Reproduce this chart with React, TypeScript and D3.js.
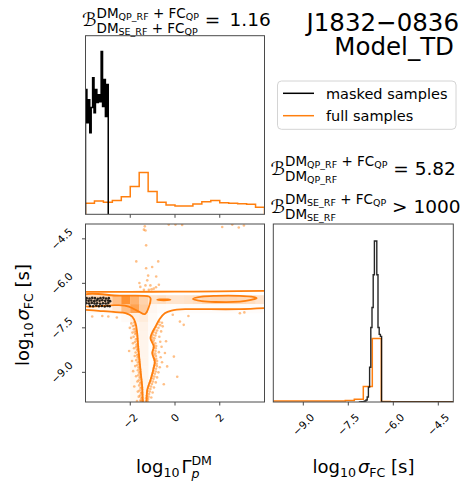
import React from "react";
import * as d3 from "d3";

const FONT = '"DejaVu Sans", "Liberation Sans", sans-serif';
const ORANGE = "#ff7f0e";
const FRAME = "#4a4a4a";

// ---------- data ----------
const gammaTicks = [-2, 0, 2];
const sigmaTicks = [-9.0, -7.5, -6.0, -4.5];
const sigmaTickLabels = ["\u22129.0", "\u22127.5", "\u22126.0", "\u22124.5"];
const gammaTickLabels = ["\u22122", "0", "2"];

// marginal of log10 Gamma (density)
const gammaFullLo = -4;
const gammaFullWidth = 0.4;
const gammaFullDensity = [0.097, 0.117, 0.106, 0.12, 0.155, 0.243, 0.366, 0.199, 0.106, 0.082, 0.073, 0.073, 0.091, 0.111, 0.12, 0.102, 0.097, 0.093, 0.088, 0.062];
const gammaMaskedLo = -4;
const gammaMaskedWidth = 0.0635;
const gammaMaskedDensity = [1.094, 0.804, 1.006, 0.716, 0.936, 1.199, 0.892, 1.094, 0.98, 1.05, 0.988, 1.428, 0.945, 1.182, 0.857, 1.138];

// marginal of log10 sigma_FC (density)
const sigmaFullLo = -10;
const sigmaFullWidth = 0.3;
const sigmaFullDensity = [0.03, 0.03, 0.035, 0.03, 0.03, 0.035, 0.03, 0.035, 0.05, 0.09, 0.517, 2.133, 0.015, 0.012, 0.012, 0.01, 0.012, 0.01, 0.012, 0.01];
const sigmaMaskedLo = -7.15;
const sigmaMaskedWidth = 0.04;
const sigmaMaskedDensity = [0, 0, 0.01, 0.01, 0.02, 0.033, 0.067, 0.167, 0.5, 1.167, 2.5, 3.167, 4.267, 5.4, 5.4, 4.267, 2.5, 2.267, 2.2];
const sigmaMaskedTailEnd = -4;

// 2D histogram cells: [gamma bin, sigma bin, level]  (gamma bins of 0.4 from -4, sigma bins of 0.3 from -10)
const heatCells: [number, number, number][] = [
  [0, 11, 0.28], [1, 11, 0.3], [2, 11, 0.3], [3, 11, 0.5], [4, 11, 0.85], [5, 11, 0.6], [6, 11, 0.35], [7, 11, 0.22], [8, 11, 0.25], [9, 11, 0.2],
  [10, 11, 0.2], [11, 11, 0.22], [12, 11, 0.25], [13, 11, 0.3], [14, 11, 0.32], [15, 11, 0.32], [16, 11, 0.32], [17, 11, 0.3], [18, 11, 0.26], [19, 11, 0.2],
  [0, 10, 0.04], [1, 10, 0.04], [2, 10, 0.06], [3, 10, 0.18], [4, 10, 0.5], [5, 10, 0.72], [6, 10, 0.4], [7, 10, 0.06], [8, 10, 0.03], [9, 10, 0.02],
  [10, 10, 0.02], [11, 10, 0.02], [12, 10, 0.02], [13, 10, 0.02], [14, 10, 0.02], [15, 10, 0.02], [16, 10, 0.02], [17, 10, 0.02], [18, 10, 0.02], [19, 10, 0.02],
  [4, 9, 0.03], [5, 9, 0.12], [6, 9, 0.15], [7, 9, 0.04],
  [5, 8, 0.06], [6, 8, 0.1], [7, 8, 0.03], [5, 7, 0.05], [6, 7, 0.09], [7, 7, 0.03], [5, 6, 0.05], [6, 6, 0.08],
  [5, 5, 0.04], [6, 5, 0.08], [5, 4, 0.04], [6, 4, 0.08], [5, 3, 0.05], [6, 3, 0.07], [5, 2, 0.05], [6, 2, 0.07],
  [5, 1, 0.04], [6, 1, 0.06], [5, 0, 0.04], [6, 0, 0.06],
];

// contours (data coordinates: [log10 Gamma, log10 sigma])
const contourUpper: [number, number][] = [[-4, -6.29], [-2, -6.285], [0, -6.28], [2, -6.27], [4, -6.255]];
const contourLower: [number, number][] = [
  [-4, -6.893], [-3.406, -6.927], [-2.659, -6.971], [-2.212, -7.005], [-1.913, -7.119], [-1.765, -7.342], [-1.689, -7.68],
  [-1.645, -8.132], [-1.587, -8.581], [-1.528, -9.03], [-1.466, -9.483], [-1.439, -9.932], [-1.41, -10.05],
  [-1.3, -10.05], [-1.242, -9.594], [-1.095, -9.256], [-0.974, -8.919], [-0.903, -8.639], [-1.019, -8.355], [-0.947, -8.132],
  [-1.095, -7.849], [-1.019, -7.66], [-0.872, -7.457], [-0.693, -7.207], [-0.456, -7.005], [-0.156, -6.917], [0.469, -6.87],
  [1.095, -6.87], [2.883, -6.87], [4, -6.836],
];
const contourInnerLeft: [number, number][] = [
  [-4.1, -6.411], [-2.48, -6.417], [-1.171, -6.444], [-1.095, -6.505], [-1.162, -6.782], [-1.35, -7.039], [-1.618, -6.951],
  [-2.065, -6.782], [-2.512, -6.735], [-2.883, -6.741], [-4.1, -6.741],
];
const contourInnerDash: [number, number][] = [[-0.8, -6.556], [-0.5, -6.538], [-0.2, -6.556], [-0.5, -6.572]];
const contourInnerRight: [number, number][] = [
  [0.8, -6.53], [1.2, -6.45], [1.8, -6.42], [2.9, -6.42], [3.4, -6.45], [3.65, -6.5], [3.4, -6.56], [2.9, -6.62], [1.8, -6.63], [1.2, -6.6],
];

// scatter samples outside the outer contour (full samples)
const fullScatter: [number, number][] = [
  [-1.35, -4.08], [-1.39, -4.19], [-1.32, -4.22], [-0.28, -4.02], [0.02, -4.02], [0.32, -4.03], [2.11, -4.1], [2.56, -4.02], [2.85, -4.12], [3.08, -4.05],
  [-1.29, -4.72], [-1.73, -5.26], [-1.29, -5.49], [-1.02, -5.45], [-0.75, -5.26], [-1.2, -5.74], [-0.84, -5.77], [-1.59, -5.99], [-1.24, -5.9],
  [-1.32, -6.07], [-1.1, -6.07], [-0.72, -6.05], [-0.95, -6.18], [-1.39, -6.22], [-1.17, -6.22], [-1.55, -6.12], [-1.05, -6.2], [-0.85, -6.13],
  [-3.7, -7.12], [-3.25, -7.1], [-2.98, -7.12], [-0.1, -7.06], [0.22, -7.29], [0.39, -7.4], [-0.05, -8.47], [0.1, -9.15], [2.9, -7.01], [3.1, -6.98], [-2.6, -7.15], [0.6, -7.1],
  // left of the vertical lobe
  [-1.82, -7.32], [-1.95, -7.35], [-1.79, -7.41], [-1.88, -7.44], [-1.76, -7.52], [-1.84, -7.55], [-2.02, -7.5], [-1.74, -7.6], [-1.8, -7.63],
  [-1.72, -7.68], [-1.78, -7.71], [-1.9, -7.66], [-1.7, -7.77], [-1.85, -7.8], [-1.69, -7.86], [-1.75, -7.89], [-1.96, -7.84], [-1.68, -7.95], [-1.79, -7.98],
  [-1.67, -8.04], [-1.72, -8.07], [-1.88, -8.02], [-1.66, -8.12], [-1.74, -8.15], [-1.65, -8.21], [-1.7, -8.24], [-1.83, -8.19], [-1.64, -8.3], [-1.76, -8.33],
  [-2.05, -8.28], [-1.63, -8.39], [-1.69, -8.42], [-1.62, -8.47], [-1.67, -8.5], [-1.8, -8.45], [-1.61, -8.56], [-1.73, -8.59], [-1.6, -8.64], [-1.66, -8.67],
  [-1.92, -8.62], [-1.59, -8.73], [-1.69, -8.76], [-1.57, -8.81], [-1.63, -8.84], [-1.78, -8.79], [-1.56, -8.9], [-1.66, -8.93], [-1.55, -8.98], [-1.61, -9.01],
  [-1.87, -8.96], [-1.54, -9.07], [-1.64, -9.1], [-1.53, -9.15], [-1.58, -9.18], [-1.74, -9.13], [-1.51, -9.24], [-1.62, -9.27], [-1.5, -9.33], [-1.56, -9.36],
  [-1.68, -9.31], [-1.49, -9.41], [-1.6, -9.44], [-1.48, -9.5], [-1.54, -9.53], [-1.82, -9.48], [-1.47, -9.58], [-1.58, -9.61], [-1.47, -9.67], [-1.52, -9.7],
  [-1.66, -9.65], [-1.46, -9.75], [-1.56, -9.78], [-1.46, -9.84], [-1.5, -9.87], [-1.62, -9.82], [-1.45, -9.92], [-1.55, -9.95], [-1.45, -9.98], [-1.51, -9.96], [-1.7, -9.97],
  // right of the vertical lobe
  [-0.7, -7.3], [-0.58, -7.33], [-0.78, -7.38], [-0.66, -7.41], [-0.86, -7.47], [-0.74, -7.5], [-0.55, -7.45], [-0.92, -7.56], [-0.8, -7.59],
  [-0.96, -7.64], [-0.85, -7.67], [-0.62, -7.62], [-0.99, -7.73], [-0.88, -7.76], [-1.02, -7.82], [-0.92, -7.85], [-0.7, -7.8], [-1.04, -7.9], [-0.95, -7.93],
  [-1.0, -7.99], [-0.88, -8.02], [-0.66, -7.97], [-0.94, -8.08], [-0.84, -8.11], [-0.95, -8.16], [-0.86, -8.19], [-0.6, -8.14], [-0.97, -8.25], [-0.87, -8.28],
  [-0.98, -8.34], [-0.88, -8.37], [-0.72, -8.32], [-0.96, -8.42], [-0.85, -8.45], [-0.94, -8.51], [-0.84, -8.54], [-0.64, -8.49], [-0.91, -8.59], [-0.8, -8.62],
  [-0.9, -8.68], [-0.82, -8.71], [-0.58, -8.66], [-0.92, -8.76], [-0.81, -8.79], [-0.95, -8.85], [-0.85, -8.88], [-0.68, -8.83], [-0.96, -8.94], [-0.86, -8.97],
  [-0.99, -9.02], [-0.9, -9.05], [-0.74, -9.0], [-1.02, -9.11], [-0.92, -9.14], [-1.05, -9.19], [-0.96, -9.22], [-0.8, -9.17], [-1.09, -9.28], [-0.99, -9.31],
  [-1.13, -9.36], [-1.03, -9.39], [-0.86, -9.34], [-1.17, -9.45], [-1.07, -9.48], [-1.2, -9.53], [-1.1, -9.56], [-0.94, -9.51], [-1.23, -9.62], [-1.13, -9.65],
  [-1.25, -9.7], [-1.16, -9.73], [-1.0, -9.68], [-1.27, -9.79], [-1.18, -9.82], [-1.29, -9.87], [-1.2, -9.9], [-1.06, -9.85], [-1.3, -9.96], [-1.22, -9.98],
  [-0.45, -8.35], [-0.5, -9.4], [-0.4, -7.95], [-0.35, -8.8],
];

// masked samples in 2D
const maskedScatter: [number, number][] = [
  [-3.95, -6.5], [-3.82, -6.51], [-3.7, -6.49], [-3.58, -6.5], [-3.45, -6.52], [-3.33, -6.5], [-3.2, -6.49], [-3.08, -6.51], [-2.96, -6.5],
  [-3.97, -6.58], [-3.86, -6.59], [-3.74, -6.58], [-3.61, -6.6], [-3.5, -6.58], [-3.37, -6.59], [-3.25, -6.57], [-3.12, -6.59], [-2.99, -6.58], [-2.9, -6.6],
  [-3.96, -6.67], [-3.84, -6.68], [-3.72, -6.66], [-3.6, -6.68], [-3.48, -6.67], [-3.35, -6.69], [-3.22, -6.67], [-3.1, -6.68], [-2.98, -6.66],
  [-3.8, -6.76], [-3.66, -6.77], [-3.52, -6.75], [-3.4, -6.77], [-3.27, -6.76], [-3.14, -6.78], [-3.02, -6.76], [-2.92, -6.77],
];

const legendLabels = ["masked samples", "full samples"];
const legendColors = ["#000000", ORANGE];
const titleLines = ["J1832\u22120836", "Model_TD"];
const bayesValues = ["1.16", "5.82", "1000"];

// ---------- math text layout ----------
type Run = { t: string; s: number; dy?: number; it?: boolean };
type Stack = { sup: Run[]; sub: Run[]; supDy: number; subDy: number };
type Item = Run | Stack;

let mctx: CanvasRenderingContext2D | null = null;
function measure(t: string, s: number, it?: boolean) {
  if (!mctx) mctx = document.createElement("canvas").getContext("2d");
  if (!mctx) return t.length * s * 0.6;
  mctx.font = `${it ? "italic " : ""}${s}px "DejaVu Sans"`;
  return mctx.measureText(t).width;
}

function layout(items: Item[]) {
  let x = 0;
  const placed: { t: string; s: number; x: number; y: number; it?: boolean }[] = [];
  for (const item of items) {
    if ("sup" in item) {
      let xs = x;
      let xb = x;
      for (const r of item.sup) {
        placed.push({ t: r.t, s: r.s, it: r.it, x: xs, y: item.supDy + (r.dy || 0) });
        xs += measure(r.t, r.s, r.it);
      }
      for (const r of item.sub) {
        placed.push({ t: r.t, s: r.s, it: r.it, x: xb, y: item.subDy + (r.dy || 0) });
        xb += measure(r.t, r.s, r.it);
      }
      x = Math.max(xs, xb);
    } else {
      placed.push({ t: item.t, s: item.s, it: item.it, x, y: item.dy || 0 });
      x += measure(item.t, item.s, item.it);
    }
  }
  return { placed, width: x };
}

function MathText({ items, x, y, anchor = "start", rotate = 0 }: { items: Item[]; x: number; y: number; anchor?: string; rotate?: number }) {
  const { placed, width } = layout(items);
  const off = anchor === "middle" ? -width / 2 : anchor === "end" ? -width : 0;
  return (
    <g transform={`translate(${x},${y}) rotate(${rotate})`}>
      {placed.map((p, i) => (
        <text key={i} x={p.x + off} y={p.y} fontSize={p.s} fontStyle={p.it ? "italic" : "normal"} fontFamily={FONT} fill="#000" style={{ whiteSpace: "pre" }}>
          {p.t}
        </text>
      ))}
    </g>
  );
}

const F0 = 18.5;
const F1 = 13.5;
const F2 = 9.5;
function scriptRuns(a: string, b?: string): Run[] {
  const runs: Run[] = [{ t: "DM", s: F1 }, { t: a, s: F2, dy: 2 }];
  if (b) runs.push({ t: " + FC", s: F1, dy: 0 }, { t: b, s: F2, dy: 2 });
  return runs;
}

function stepPoints(lo: number, w: number, vals: number[], tail?: number): [number, number][] {
  const pts: [number, number][] = [[lo, 0]];
  vals.forEach((v, i) => {
    pts.push([lo + i * w, v]);
    pts.push([lo + (i + 1) * w, v]);
  });
  pts.push([lo + vals.length * w, 0]);
  if (tail !== undefined) pts.push([tail, 0]);
  return pts;
}

const sigmaLabelItems: Item[] = [
  { t: "log", s: 18 },
  { t: "10", s: 12.6, dy: 4 },
  { t: " ", s: 6 },
  { t: "\u03c3", s: 18, it: true },
  { t: "FC", s: 12.6, dy: 4 },
  { t: " [s]", s: 18 },
];
const gammaLabelItems: Item[] = [
  { t: "log", s: 18 },
  { t: "10", s: 12.6, dy: 4 },
  { t: " ", s: 6 },
  { t: "\u0393", s: 18 },
  { sup: [{ t: "DM", s: 12.6 }], sub: [{ t: "p", s: 12.6, it: true }], supDy: -8.5, subDy: 5 },
];

export default function App() {
  const TL = { x0: 85.5, x1: 264.5, y0: 35.7, y1: 214.3 };
  const BL = { x0: 85.5, x1: 264.5, y0: 224, y1: 402 };
  const BR = { x0: 273.3, x1: 453.3, y0: 224, y1: 402 };

  const gx = d3.scaleLinear().domain([-4, 4]).range([BL.x0, BL.x1]);
  const sy = d3.scaleLinear().domain([-10, -4]).range([BL.y1, BL.y0]);
  const sx = d3.scaleLinear().domain([-10, -4]).range([BR.x0, BR.x1]);
  const ty = d3.scaleLinear().domain([0, 1.567]).range([TL.y1, TL.y0]);
  const ry = d3.scaleLinear().domain([0, 5.97]).range([BR.y1, BR.y0]);

  const topLine = d3.line<[number, number]>().x((d) => gx(d[0])).y((d) => ty(d[1]));
  const rightLine = d3.line<[number, number]>().x((d) => sx(d[0])).y((d) => ry(d[1]));
  const cLine = d3.line<[number, number]>().x((d) => gx(d[0])).y((d) => sy(d[1])).curve(d3.curveCatmullRom.alpha(0.5));
  const cClosed = d3.line<[number, number]>().x((d) => gx(d[0])).y((d) => sy(d[1])).curve(d3.curveCatmullRomClosed.alpha(0.5));
  const heatColor = d3.interpolateRgb("#ffffff", ORANGE);

  const TICK_FS = 10.5;
  const tickH = 12.3;

  const frame = (p: { x0: number; x1: number; y0: number; y1: number }) => (
    <rect x={p.x0} y={p.y0} width={p.x1 - p.x0} height={p.y1 - p.y0} fill="none" stroke={FRAME} strokeWidth={1} />
  );

  return (
    <svg width={465} height={485} style={{ position: "absolute", left: 0, top: 0, background: "#fff" }} fontFamily={FONT}>
      <defs>
        <clipPath id="clipTL"><rect x={TL.x0} y={TL.y0 - 2} width={TL.x1 - TL.x0} height={TL.y1 - TL.y0 + 2} /></clipPath>
        <clipPath id="clipBL"><rect x={BL.x0} y={BL.y0} width={BL.x1 - BL.x0} height={BL.y1 - BL.y0} /></clipPath>
        <clipPath id="clipBR"><rect x={BR.x0} y={BR.y0} width={BR.x1 - BR.x0} height={BR.y1 - BR.y0} /></clipPath>
      </defs>

      {/* ---- top-left marginal ---- */}
      <g clipPath="url(#clipTL)">
        <path d={topLine(stepPoints(gammaFullLo, gammaFullWidth, gammaFullDensity)) || ""} fill="none" stroke={ORANGE} strokeWidth={1.5} />
        <path d={topLine(stepPoints(gammaMaskedLo, gammaMaskedWidth, gammaMaskedDensity)) || ""} fill="none" stroke="#000" strokeWidth={1.5} />
      </g>
      {frame(TL)}
      {gammaTicks.map((t) => (
        <line key={"tt" + t} x1={gx(t)} x2={gx(t)} y1={TL.y1} y2={TL.y1 + 3.5} stroke={FRAME} strokeWidth={1} />
      ))}

      {/* ---- 2D panel ---- */}
      <g clipPath="url(#clipBL)">
        {heatCells.map(([c, r, v], i) => {
          const xa = gx(-4 + c * 0.4);
          const xb = gx(-4 + (c + 1) * 0.4);
          const ya = sy(-10 + (r + 1) * 0.3);
          const yb = sy(-10 + r * 0.3);
          return <rect key={i} x={xa} y={ya} width={xb - xa + 0.3} height={yb - ya + 0.3} fill={heatColor(v)} />;
        })}
        {fullScatter.map((p, i) => (
          <circle key={i} cx={gx(p[0])} cy={sy(p[1])} r={1.3} fill={ORANGE} fillOpacity={0.5} />
        ))}
        <path d={cLine(contourUpper) || ""} fill="none" stroke={ORANGE} strokeWidth={1.8} />
        <path d={cLine(contourLower) || ""} fill="none" stroke={ORANGE} strokeWidth={1.8} />
        <path d={cClosed(contourInnerLeft) || ""} fill="none" stroke={ORANGE} strokeWidth={1.8} />
        <path d={cClosed(contourInnerDash) || ""} fill="none" stroke={ORANGE} strokeWidth={1.8} />
        <path d={cClosed(contourInnerRight) || ""} fill="none" stroke={ORANGE} strokeWidth={1.8} />
        {maskedScatter.map((p, i) => (
          <circle key={"m" + i} cx={gx(p[0])} cy={sy(p[1])} r={1.3} fill="#000" fillOpacity={0.85} />
        ))}
      </g>
      {frame(BL)}
      {gammaTicks.map((t, i) => {
        const w = measure(gammaTickLabels[i], TICK_FS);
        const cy = BL.y1 + 9.1 + 0.354 * (w + tickH);
        return (
          <g key={"bx" + t}>
            <line x1={gx(t)} x2={gx(t)} y1={BL.y1} y2={BL.y1 + 3.5} stroke={FRAME} strokeWidth={1} />
            <text transform={`translate(${gx(t)},${cy}) rotate(-45)`} textAnchor="middle" dy="0.36em" fontSize={TICK_FS}>{gammaTickLabels[i]}</text>
          </g>
        );
      })}
      {sigmaTicks.map((t, i) => {
        const w = measure(sigmaTickLabels[i], TICK_FS);
        const cx = BL.x0 - 10.4 - 0.354 * (w + tickH);
        return (
          <g key={"by" + t}>
            <line x1={BL.x0 - 3.5} x2={BL.x0} y1={sy(t)} y2={sy(t)} stroke={FRAME} strokeWidth={1} />
            <text transform={`translate(${cx},${sy(t)}) rotate(-45)`} textAnchor="middle" dy="0.36em" fontSize={TICK_FS}>{sigmaTickLabels[i]}</text>
          </g>
        );
      })}

      {/* ---- bottom-right marginal ---- */}
      <g clipPath="url(#clipBR)">
        <path d={rightLine(stepPoints(sigmaFullLo, sigmaFullWidth, sigmaFullDensity)) || ""} fill="none" stroke={ORANGE} strokeWidth={1.5} />
        <path d={rightLine(stepPoints(sigmaMaskedLo, sigmaMaskedWidth, sigmaMaskedDensity, sigmaMaskedTailEnd)) || ""} fill="none" stroke="#000" strokeWidth={1.4} strokeOpacity={0.85} />
      </g>
      {frame(BR)}
      {sigmaTicks.map((t, i) => {
        const w = measure(sigmaTickLabels[i], TICK_FS);
        const cy = BR.y1 + 9.1 + 0.354 * (w + tickH);
        return (
          <g key={"rx" + t}>
            <line x1={sx(t)} x2={sx(t)} y1={BR.y1} y2={BR.y1 + 3.5} stroke={FRAME} strokeWidth={1} />
            <text transform={`translate(${sx(t)},${cy}) rotate(-45)`} textAnchor="middle" dy="0.36em" fontSize={TICK_FS}>{sigmaTickLabels[i]}</text>
          </g>
        );
      })}

      {/* ---- axis labels ---- */}
      <MathText x={174} y={473} anchor="middle" items={gammaLabelItems} />
      <MathText x={363.5} y={473} anchor="middle" items={sigmaLabelItems} />
      <MathText x={29} y={315} anchor="middle" rotate={-90} items={sigmaLabelItems} />

      {/* ---- Bayes factors ---- */}
      <MathText
        x={82}
        y={26}
        items={[
          { t: "\u212c", s: F0 },
          { sup: scriptRuns("QP_RF", "QP"), sub: scriptRuns("SE_RF", "QP"), supDy: -8.5, subDy: 6.5 },
          { t: " =\u2002" + bayesValues[0], s: F0 },
        ]}
      />
      <MathText
        x={270.5}
        y={175}
        items={[
          { t: "\u212c", s: F0 },
          { sup: scriptRuns("QP_RF", "QP"), sub: scriptRuns("QP_RF"), supDy: -9.5, subDy: 5.5 },
          { t: " = " + bayesValues[1], s: F0 },
        ]}
      />
      <MathText
        x={270.5}
        y={213}
        items={[
          { t: "\u212c", s: F0 },
          { sup: scriptRuns("SE_RF", "QP"), sub: scriptRuns("SE_RF"), supDy: -9.5, subDy: 5.5 },
          { t: " > " + bayesValues[2], s: F0 },
        ]}
      />

      {/* ---- title ---- */}
      <text x={459} y={30.5} textAnchor="end" fontSize={24.5}>{titleLines[0]}</text>
      <text x={454} y={55} textAnchor="end" fontSize={24.5}>{titleLines[1]}</text>

      {/* ---- legend ---- */}
      <rect x={277.5} y={81} width={178.5} height={48.3} rx={4} fill="#fff" stroke="#d4d4d4" strokeWidth={1} />
      {legendLabels.map((lab, i) => (
        <g key={lab}>
          <line x1={283} x2={314} y1={93.3 + i * 22.4} y2={93.3 + i * 22.4} stroke={legendColors[i]} strokeWidth={1.5} />
          <text x={326} y={98.5 + i * 22.4} fontSize={14.5}>{lab}</text>
        </g>
      ))}
    </svg>
  );
}
